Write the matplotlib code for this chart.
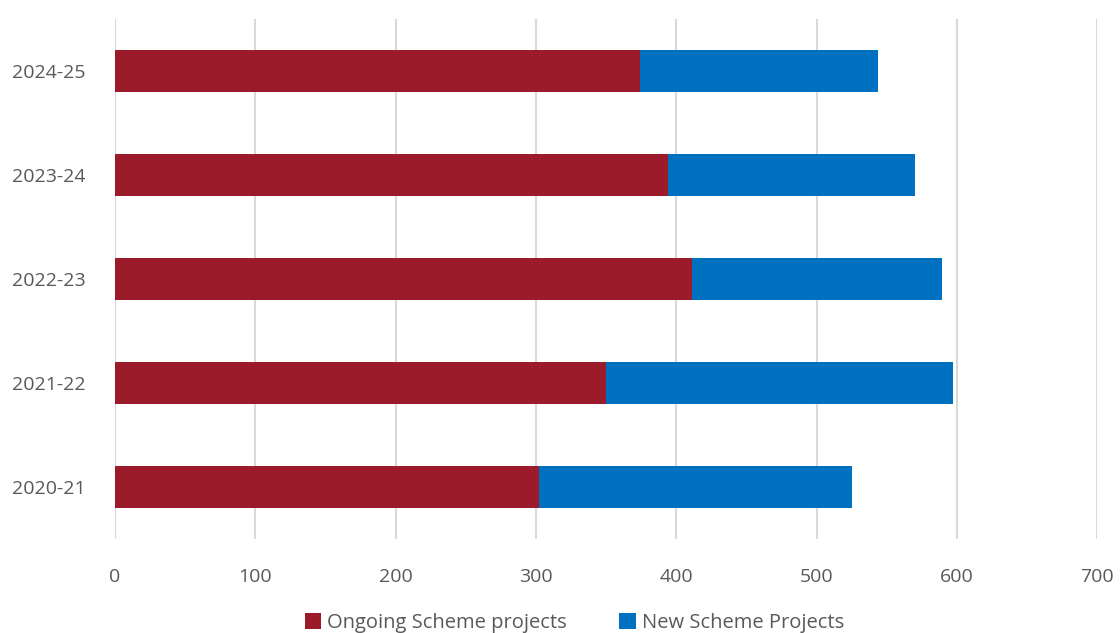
import matplotlib
matplotlib.use("Agg")
import matplotlib.pyplot as plt
import numpy as np

years = ["2020-21", "2021-22", "2022-23", "2023-24", "2024-25"]
ongoing = [302, 350, 411, 394, 374]
new_scheme = [223, 247, 178, 176, 170]
xticks = [0, 100, 200, 300, 400, 500, 600, 700]

plt.rcParams['font.family'] = ['Open Sans', 'DejaVu Sans']
fig = plt.figure(figsize=(11.2, 6.33), dpi=100)
ax = fig.add_axes([0.1027, 0.1485, 0.877, 0.8215])

y = np.arange(len(years))
red = "#9B1B2A"
blue = "#0070C0"
h = 0.40
ax.barh(y, ongoing, height=h, color=red, label="Ongoing Scheme projects", zorder=3)
ax.barh(y, new_scheme, left=ongoing, height=h, color=blue, label="New Scheme Projects", zorder=3)

ax.set_xlim(0, 700)
ax.set_ylim(-0.5, len(years) - 0.5)
ax.set_xticks(xticks)
ax.set_xticklabels([str(v) for v in xticks])
ax.set_yticks(y)
ax.set_yticklabels(years)
ax.grid(axis='x', color='#d9d9d9', linewidth=1.5, zorder=0)
ax.set_axisbelow(True)
for s in ax.spines.values():
    s.set_visible(False)
ax.tick_params(axis='both', length=0, colors='#595959', labelsize=14)
ax.tick_params(axis='x', pad=21)
ax.tick_params(axis='y', pad=21)

fig.legend(loc='center', bbox_to_anchor=(0.513, 1 - 623 / 633), ncol=2, frameon=False,
           fontsize=14.5, labelcolor='#595959', handlelength=0.8, handleheight=0.8,
           handletextpad=0.3, columnspacing=2.6)

fig.savefig("out.png", dpi=100)
